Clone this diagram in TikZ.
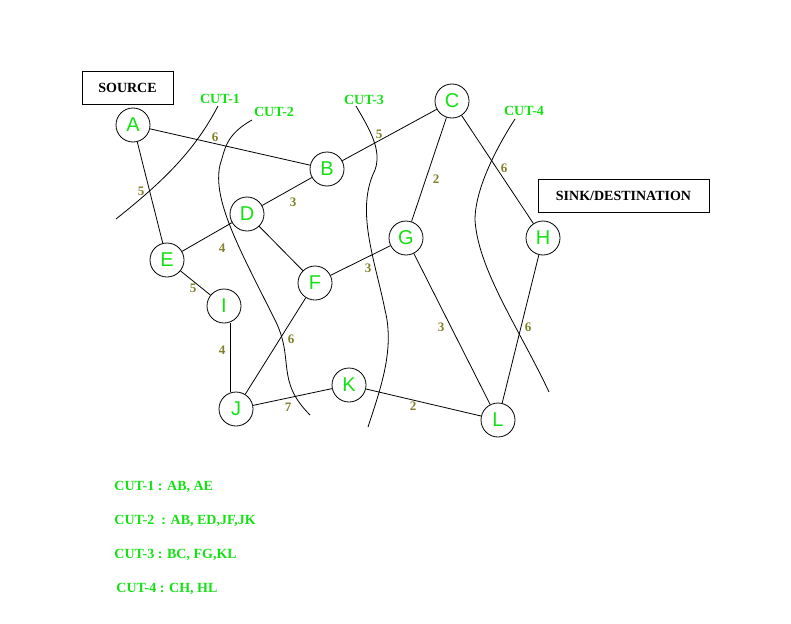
\documentclass[tikz,border=0pt]{standalone}
\usepackage{fontspec}
\setmainfont{Liberation Serif}
\newfontfamily\lsans{Liberation Sans}
\definecolor{grn}{RGB}{20,225,20}
\definecolor{olv}{RGB}{128,128,40}
\begin{document}
\begin{tikzpicture}[x=1pt,y=-1pt,line width=0.8pt,
 vtx/.style={circle,draw,fill=white,minimum size=34pt,inner sep=0pt,text=grn,font=\lsans\fontsize{20}{20}\selectfont},
 wt/.style={text=olv,font=\bfseries\fontsize{13}{13}\selectfont,inner sep=1pt},
 lbl/.style={text=grn,font=\bfseries\fontsize{14}{16}\selectfont,inner sep=0pt},
 boxn/.style={draw,font=\bfseries\fontsize{14}{16}\selectfont,inner sep=0pt}]
\useasboundingbox (0,0) rectangle (791,623);
\node[vtx] (A) at (133,125) {A};
\node[vtx] (B) at (327,169) {B};
\node[vtx] (C) at (452,101) {C};
\node[vtx] (D) at (247,214) {D};
\node[vtx] (E) at (167,260) {E};
\node[vtx] (F) at (315,283) {F};
\node[vtx] (G) at (406,238) {G};
\node[vtx] (H) at (543,238) {H};
\node[vtx] (I) at (224,306) {I};
\node[vtx] (J) at (236,409) {J};
\node[vtx] (K) at (349,385) {K};
\node[vtx] (L) at (498,420) {L};
\draw (A)--(B); \draw (A)--(E); \draw (B)--(D); \draw (B)--(C);
\draw (C)--(G); \draw (C)--(H); \draw (D)--(E); \draw (D)--(F);
\draw (F)--(G); \draw (E)--(I); \draw ([xshift=6pt]I.south)--([xshift=-6pt]J.north); \draw (J)--(F);
\draw (J)--(K); \draw (K)--(L); \draw (G)--(L); \draw (H)--(L);
\node[wt] (w1) at (215,137) {6};
\node[wt] (w2) at (141,191) {5};
\node[wt] (w3) at (293,202) {3};
\node[wt] (w4) at (379,134) {5};
\node[wt] (w5) at (436,179) {2};
\node[wt] (w6) at (504,168) {6};
\node[wt] (w7) at (222,248) {4};
\node[wt] (w8) at (368,268) {3};
\node[wt] (w9) at (193,288) {5};
\node[wt] (w10) at (222,350) {4};
\node[wt] (w11) at (291,339) {6};
\node[wt] (w12) at (288,407) {7};
\node[wt] (w13) at (413,406) {2};
\node[wt] (w14) at (441,327) {3};
\node[wt] (w15) at (528,327) {6};
\draw (218,106) .. controls (195,150) and (165,180) .. (116,219);
\draw (252,120) .. controls (225,135) and (225,150) .. (220,165) .. controls (212,200) and (240,250) .. (275,320) .. controls (295,360) and (275,380) .. (310,415);
\draw (356,106) .. controls (370,130) and (382,150) .. (375,170) .. controls (355,210) and (375,260) .. (385,310) .. controls (395,350) and (380,390) .. (368,427);
\draw (515,119) .. controls (495,150) and (475,190) .. (475,220) .. controls (478,270) and (520,330) .. (549,392);
\node[lbl] (c1) at (220,99) {CUT-1};
\node[lbl] (c2) at (274,112) {CUT-2};
\node[lbl] (c3) at (364,100) {CUT-3};
\node[lbl] (c4) at (524,111) {CUT-4};
\node[boxn,minimum width=91pt,minimum height=33pt] (src) at (127.5,87.5) {SOURCE};
\node[boxn,minimum width=171pt,minimum height=33pt] (snk) at (623.5,195.5) {SINK/DESTINATION};
\node[lbl,anchor=west] (t1) at (114,487) {CUT-1 : AB, AE};
\node[lbl,anchor=west] (t2) at (114,521) {CUT-2 \ : AB, ED,JF,JK};
\node[lbl,anchor=west] (t3) at (114,555) {CUT-3 : BC, FG,KL};
\node[lbl,anchor=west] (t4) at (116,589) {CUT-4 : CH, HL};
\end{tikzpicture}
\end{document}
